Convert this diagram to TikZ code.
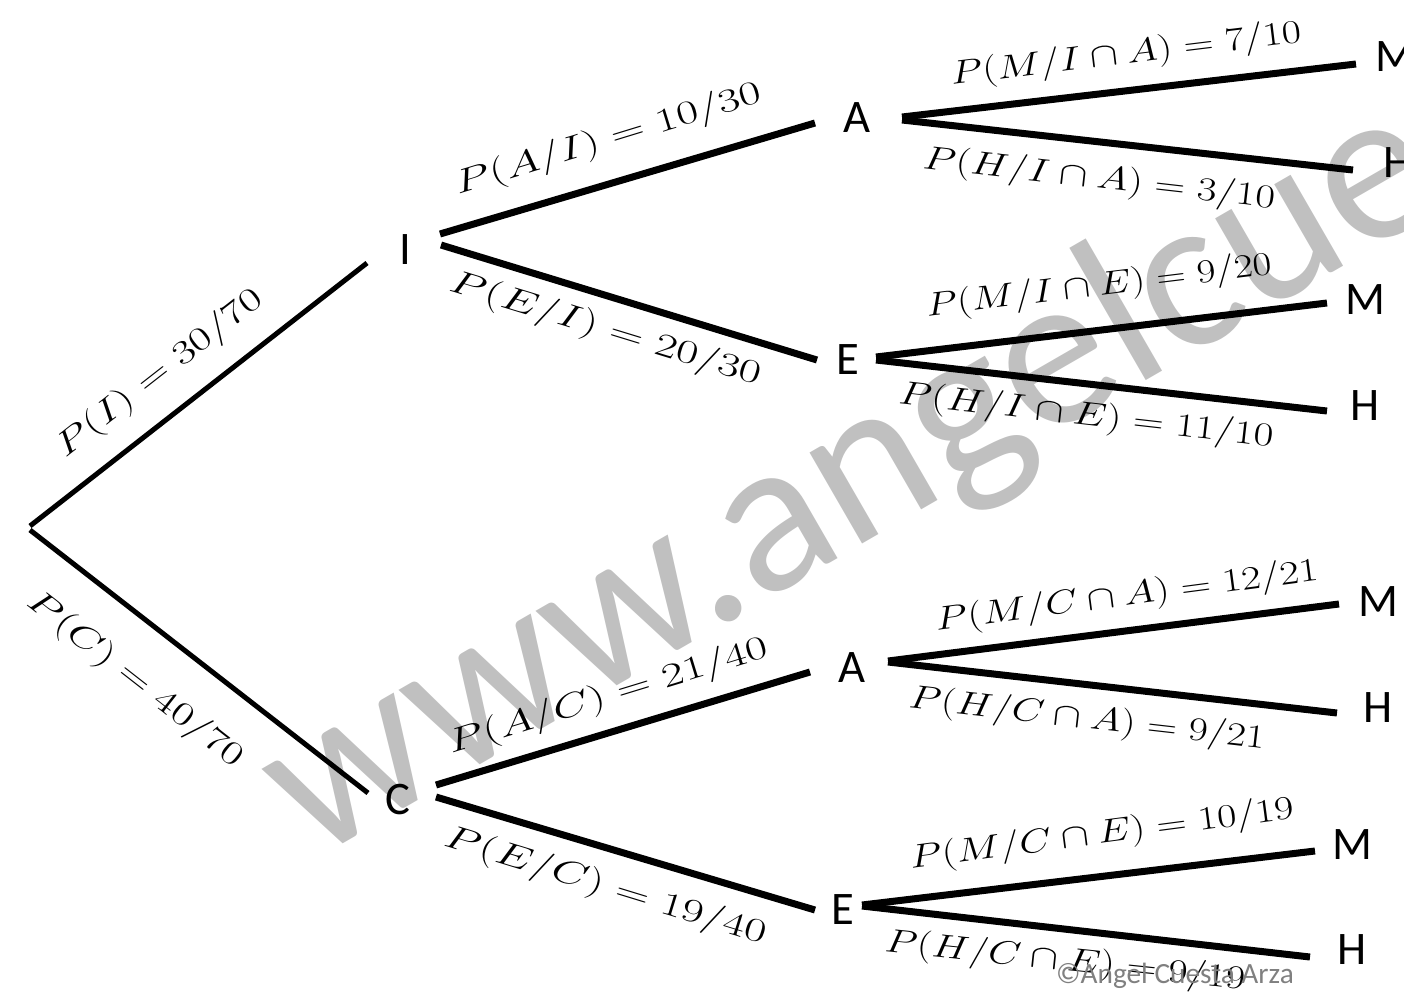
\documentclass[tikz,border=0pt]{standalone}
\usepackage{fontspec}
\usepackage{graphicx}
\setsansfont{Carlito}
\usetikzlibrary{calc}
\definecolor{wm}{RGB}{192,192,192}
\definecolor{cp}{RGB}{128,128,128}
\newcommand{\pl}[2]{\resizebox{\dimexpr #1pt*3/4\relax}{\height}{$#2$}}
\begin{document}
\begin{tikzpicture}[x=0.75pt,y=-0.75pt,
  leaf/.style={font=\sffamily\fontsize{35}{40}\selectfont,inner sep=0pt,anchor=center},
  prob/.style={font=\fontsize{38}{44}\selectfont,inner sep=0pt,anchor=center},
  br/.style={line width=5.25pt},
  rootbr/.style={line width=3.75pt}]
\useasboundingbox (0,0) rectangle (1404,997);
% watermark
\node[font=\sffamily\fontsize{165}{180}\selectfont,text=wm,anchor=base west,rotate=30,inner sep=0pt] (wmark) at (312,862) {www.angelcuesta.com};
% nodes
\coordinate (R) at (30,526);
\node[leaf] (I) at (405,250) {I};
\node[leaf] (C) at (398,800) {C};
\node[leaf] (A1) at (857,118) {A};
\node[leaf] (E1) at (848,360) {E};
\node[leaf] (A2) at (852,668) {A};
\node[leaf] (E2) at (843,910) {E};
\node[leaf] (M1) at (1395,57) {M};
\node[leaf] (H1) at (1398,163) {H};
\node[leaf] (M2) at (1365,300) {M};
\node[leaf] (H2) at (1365,406) {H};
\node[leaf] (M3) at (1378,602) {M};
\node[leaf] (H3) at (1378,708) {H};
\node[leaf] (M4) at (1352,845) {M};
\node[leaf] (H4) at (1352,950) {H};
% branches
\draw[rootbr] (R) -- ($(I)+(-38,13)$);
\draw[rootbr] ($(R)+(0,4)$) -- ($(C)+(-30,-7)$);
\draw[br] ($(I)+(35,-16)$) -- ($(A1)+(-42,5)$);
\draw[br] ($(I)+(36,-5)$) -- ($(E1)+(-31,0)$);
\draw[br] ($(A1)+(45,-1)$) -- ($(M1)+(-39,7)$);
\draw[br] ($(A1)+(45,2)$) -- ($(H1)+(-45,7)$);
\draw[br] ($(E1)+(28,-3)$) -- ($(M2)+(-38,3)$);
\draw[br] ($(E1)+(28,0)$) -- ($(H2)+(-38,5)$);
\draw[br] ($(C)+(38,-15)$) -- ($(A2)+(-42,4)$);
\draw[br] ($(C)+(38,-3)$) -- ($(E2)+(-28,0)$);
\draw[br] ($(A2)+(36,-7)$) -- ($(M3)+(-39,2)$);
\draw[br] ($(A2)+(36,-6)$) -- ($(H3)+(-41,5)$);
\draw[br] ($(E2)+(19,-5)$) -- ($(M4)+(-37,6)$);
\draw[br] ($(E2)+(19,-4)$) -- ($(H4)+(-42,7)$);
% labels
\node[prob,rotate=38] (l1) at (160,374) {\pl{253}{P(I)=30/70}};
\node[prob,rotate=-38] (l2) at (135,680) {\pl{265}{P(C)=40/70}};
\node[prob,rotate=17] (l3) at (608,140) {\pl{319}{P(A/I)=10/30}};
\node[prob,rotate=-17] (l4) at (605,330) {\pl{324}{P(E/I)=20/30}};
\node[prob,rotate=7] (l5) at (1126,55) {\pl{353}{P(M/I\cap A)=7/10}};
\node[prob,rotate=-6.5] (l6) at (1099,180) {\pl{354}{P(H/I\cap A)=3/10}};
\node[prob,rotate=7] (l7) at (1099,287) {\pl{348}{P(M/I\cap E)=9/20}};
\node[prob,rotate=-6.5] (l8) at (1086,417) {\pl{377}{P(H/I\cap E)=11/10}};
\node[prob,rotate=17] (l9) at (608,697) {\pl{333}{P(A/C)=21/40}};
\node[prob,rotate=-17] (l10) at (605,887) {\pl{335}{P(E/C)=19/40}};
\node[prob,rotate=7.5] (l11) at (1127,597) {\pl{386}{P(M/C\cap A)=12/21}};
\node[prob,rotate=-6.5] (l12) at (1087,720) {\pl{358}{P(H/C\cap A)=9/21}};
\node[prob,rotate=7.5] (l13) at (1102,835) {\pl{387}{P(M/C\cap E)=10/19}};
\node[prob,rotate=-6] (l14) at (1065,962) {\pl{362}{P(H/C\cap E)=9/19}};
% copyright
\node[font=\sffamily\fontsize{22}{26}\selectfont,text=cp,inner sep=0pt] (copy) at (1175,976) {©Angel Cuesta Arza};
\end{tikzpicture}
\end{document}
